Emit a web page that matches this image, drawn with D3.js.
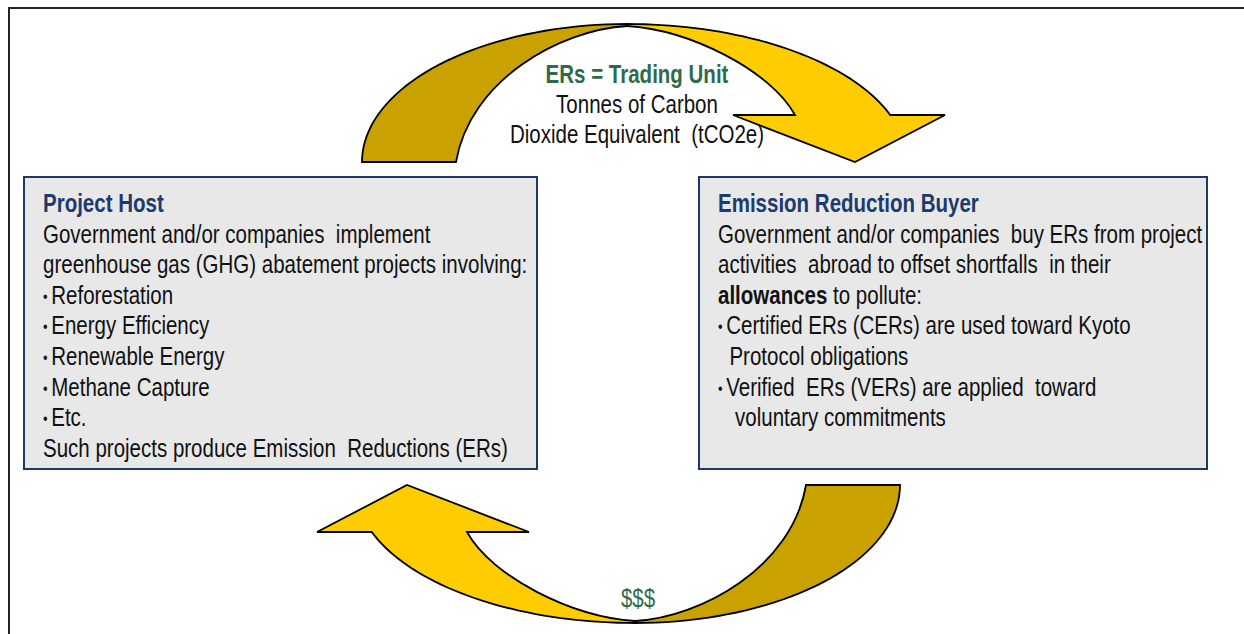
<!DOCTYPE html>
<html lang="en">
<head>
<meta charset="UTF-8">
<title>Emission Reduction trading cycle</title>
<script src="https://d3js.org/d3.v7.min.js"></script>
<style>
    body { margin: 0; background: #fff; }
    text {
        font-family: 'Liberation Sans', Arial, sans-serif;
        font-size: 25px;
        fill: #111;
        white-space: pre;
    }
    .title { font-weight: bold; fill: #1c3a6e; }
    .green { fill: #2f6b49; }
</style>
</head>
<body>
<script>
    const width = 1244;
    const height = 634;
    const narrow = 0.82;   // Arial Narrow look: Liberation Sans squeezed horizontally

    // texts of the diagram
    const hostTitle = "Project Host";
    const hostLines = [
        "Government and/or companies  implement",
        "greenhouse gas (GHG) abatement projects involving:",
        "• Reforestation",
        "• Energy Efficiency",
        "• Renewable Energy",
        "• Methane Capture",
        "• Etc.",
        "Such projects produce Emission  Reductions (ERs)"
    ];
    const buyerTitle = "Emission Reduction Buyer";
    const buyerLines = [
        "Government and/or companies  buy ERs from project",
        "activities  abroad to offset shortfalls  in their",
        "**allowances** to pollute:",
        "• Certified ERs (CERs) are used toward Kyoto",
        "  Protocol obligations",
        "• Verified  ERs (VERs) are applied  toward",
        "   voluntary commitments"
    ];
    const unitLabel = "ERs = Trading Unit";
    const unitLines = ["Tonnes of Carbon", "Dioxide Equivalent  (tCO2e)"];
    const paymentLabel = "$$$";

    const colors = {dark: "#c9a200", light: "#ffcc00", boxFill: "#e8e8e8", boxStroke: "#1f3864"};

    const svg = d3.select("body").append("svg").attr("width", width).attr("height", height);

    function addText(parent, x, y, cls) {
        return parent.append("text")
            .attr("class", cls || null)
            .attr("transform", `translate(${x},${y}) scale(${narrow},1)`);
    }

    // page frame (only top and left edges are visible)
    svg.append("path")
        .attr("d", `M9,${height} V8 H${width}`)
        .style("fill", "none").style("stroke", "#222").style("stroke-width", 2);

    // boxes
    const boxes = [
        {x: 24, y: 177, w: 513, h: 292, title: hostTitle, lines: hostLines},
        {x: 699, y: 177, w: 508, h: 292, title: buyerTitle, lines: buyerLines}
    ];

    const box = svg.selectAll("g.box").data(boxes).enter().append("g").attr("class", "box");
    box.append("rect")
        .attr("x", d => d.x).attr("y", d => d.y)
        .attr("width", d => d.w).attr("height", d => d.h)
        .style("fill", colors.boxFill).style("stroke", colors.boxStroke).style("stroke-width", 2);

    const lineStep = 30.6;
    box.each(function(b) {
        const g = d3.select(this);
        const x = b.x + 19;
        addText(g, x, b.y + 35, "title").text(b.title);
        b.lines.forEach((line, i) => {
            const t = addText(g, x, b.y + 65.5 + i * lineStep);
            if (line.startsWith("• ")) {
                // small bullet like the original slide
                t.append("tspan").style("font-size", "16px").attr("dy", -2).text("• ");
                t.append("tspan").attr("dy", 2).text(line.slice(2));
                return;
            }
            line.split(/\*\*/).forEach((p, k) => {
                if (!p) return;
                t.append("tspan").style("font-weight", k % 2 ? "bold" : null).text(p);
            });
        });
    });

    // curved arrow: tail (dark) and head (light), then rotated for the return arrow
    const A = {cx: 627, cy: 162, ry: 138, rxTail: 265, rxHead: 280, base: 162, barb: 115};

    function ellipsePts(p, rx, t0, t1) {
        d3.range(0, 41).forEach(k => {
            const t = t0 + (t1 - t0) * k / 40;
            p.lineTo(A.cx + rx * Math.cos(t), A.cy + A.ry * Math.sin(t));
        });
    }

    const tail = d3.path();
    tail.moveTo(A.cx - A.rxTail, A.base);
    ellipsePts(tail, A.rxTail, Math.PI, 1.5 * Math.PI);
    tail.lineTo(A.cx, A.cy - A.ry + 2);
    tail.bezierCurveTo(560, 30, 470, 80, 456, A.base);
    tail.closePath();

    const tEnd = 2 * Math.PI - Math.asin((A.cy - A.barb) / A.ry);
    const head = d3.path();
    head.moveTo(A.cx, A.cy - A.ry);
    ellipsePts(head, A.rxHead, 1.5 * Math.PI, tEnd);
    head.lineTo(945, A.barb);
    head.lineTo(855, A.base);
    head.lineTo(733, A.barb);
    head.lineTo(795, A.barb);
    head.bezierCurveTo(770, 70, 690, 30, A.cx, A.cy - A.ry + 2);
    head.closePath();

    const arrows = [{rot: 0}, {rot: 180}];
    const arrow = svg.selectAll("g.arrow").data(arrows).enter().append("g")
        .attr("class", "arrow")
        .attr("transform", d => `rotate(${d.rot}, 631, 323.5)`);
    arrow.append("path").attr("d", tail.toString())
        .style("fill", colors.dark).style("stroke", "#000").style("stroke-width", 1.8);
    arrow.append("path").attr("d", head.toString())
        .style("fill", colors.light).style("stroke", "#000").style("stroke-width", 1.8);

    // arrow labels
    const mid = 637;
    addText(svg, mid, 83, "green").attr("text-anchor", "middle")
        .style("font-weight", "bold").text(unitLabel);
    unitLines.forEach((s, i) => {
        addText(svg, mid, 113 + i * 30).attr("text-anchor", "middle").text(s);
    });
    addText(svg, 638, 607, "green").attr("text-anchor", "middle").text(paymentLabel);
</script>
</body>
</html>
